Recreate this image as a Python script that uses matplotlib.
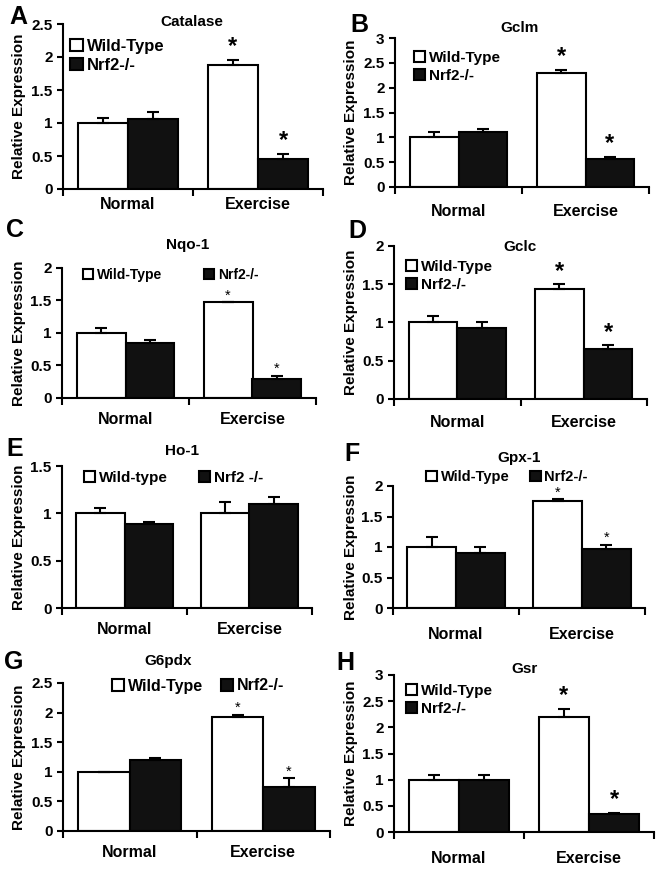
import numpy as np
import matplotlib.pyplot as plt
from matplotlib.ticker import MultipleLocator, FixedLocator

plt.rcParams['font.family'] = ['Liberation Sans', 'DejaVu Sans']
plt.rcParams['font.weight'] = 'bold'

W, H = 664, 873

# data
genes = ['Catalase', 'Gclm', 'Nqo-1', 'Gclc', 'Ho-1', 'Gpx-1', 'G6pdx', 'Gsr']
letters = ['A', 'B', 'C', 'D', 'E', 'F', 'G', 'H']
groups = ['Normal', 'Exercise']
wt_labels = ['Wild-Type', 'Wild-Type', 'Wild-Type', 'Wild-Type', 'Wild-type', 'Wild-Type', 'Wild-Type', 'Wild-Type']
ko_labels = ['Nrf2-/-', 'Nrf2-/-', 'Nrf2-/-', 'Nrf2-/-', 'Nrf2 -/-', 'Nrf2-/-', 'Nrf2-/-', 'Nrf2-/-']
wt_mean = [[1.0, 1.88], [1.0, 2.30], [1.0, 1.47], [1.0, 1.44], [1.0, 1.0], [1.0, 1.76], [1.0, 1.93], [1.0, 2.20]]
wt_err = [[0.07, 0.08], [0.10, 0.06], [0.08, 0.0], [0.08, 0.06], [0.06, 0.12], [0.17, 0.02], [0.0, 0.03], [0.08, 0.15]]
ko_mean = [[1.06, 0.46], [1.10, 0.57], [0.85, 0.29], [0.93, 0.66], [0.89, 1.10], [0.90, 0.96], [1.20, 0.74], [1.0, 0.34]]
ko_err = [[0.10, 0.07], [0.07, 0.04], [0.04, 0.05], [0.07, 0.04], [0.02, 0.07], [0.10, 0.07], [0.04, 0.15], [0.08, 0.03]]
ymax = [2.5, 3, 2, 2, 1.5, 2, 2.5, 3]
significant = [True, True, True, True, False, True, True, True]

# layout (pixels): axes box x0, y0(top), x1, y1(bottom)
boxes = [(63, 24, 323, 189), (395, 38, 649, 187), (62, 268, 316, 398), (394, 246, 647, 399),
         (62, 466, 312, 608), (393, 486, 645, 608), (63, 683, 330, 831), (394, 675, 654, 832)]
title_pos = [(192, 22), (520, 28), (188, 245), (520, 247), (182, 451), (519, 458), (168, 661), (525, 669)]
letter_pos = [(18, 17), (359, 25), (15, 230), (357, 231), (15, 449), (352, 454), (14, 662), (345, 663)]
legend_pos = [(70, 56), (414, 67), (83, 275), (406, 276), (84, 478), (426, 477), (112, 686), (406, 700)]
legend_cols = [1, 1, 2, 1, 2, 2, 2, 1]
legend_gap = [1, 1, 3.0, 1, 2.0, 1.4, 1.1, 1]
legend_fs = [12, 11, 10, 11, 11, 10.5, 11.5, 11]
xpad = [6, 12, 10, 11.5, 10, 13.5, 10, 13.5]
bold_star = [True, True, False, True, False, False, False, True]
ylabel_x = [26, 358, 26, 358, 26, 358, 26, 358]


def fx(x):
    return x / W


def fy(y):
    return 1 - y / H


fig = plt.figure(figsize=(W / 100, H / 100), dpi=100, facecolor='white')

centers = np.array([0.5, 1.5])
bw = 0.385

for i in range(8):
    x0, y0, x1, y1 = boxes[i]
    ax = fig.add_axes([fx(x0), fy(y1), (x1 - x0) / W, (y1 - y0) / H])
    wt = np.array(wt_mean[i])
    ko = np.array(ko_mean[i])
    b1 = ax.bar(centers - bw / 2, wt, bw, color='white', edgecolor='black', linewidth=1.5, zorder=2,
                label=wt_labels[i])
    b2 = ax.bar(centers + bw / 2, ko, bw, color='#111111', edgecolor='black', linewidth=1.5, zorder=2,
                label=ko_labels[i])
    ax.errorbar(centers - bw / 2, wt, yerr=[np.zeros(2), wt_err[i]], fmt='none', ecolor='black',
                elinewidth=1.5, capsize=4, capthick=1.5, zorder=3)
    ax.errorbar(centers + bw / 2, ko, yerr=[np.zeros(2), ko_err[i]], fmt='none', ecolor='black',
                elinewidth=1.5, capsize=4, capthick=1.5, zorder=3)

    # significance stars over the exercise bars
    if significant[i]:
        for xs, m, e in [(centers[1] - bw / 2, wt[1], wt_err[i][1]), (centers[1] + bw / 2, ko[1], ko_err[i][1])]:
            if bold_star[i]:
                ax.text(xs, m + e + ymax[i] * 0.01, '*', ha='center', va='bottom', fontsize=17,
                        fontweight='bold', zorder=4)
            else:
                ax.text(xs, m + e, '*', ha='center', va='bottom', fontsize=10.5,
                        fontweight='normal', zorder=4)

    ax.set_xlim(0, 2)
    ax.set_ylim(0, ymax[i])
    ax.yaxis.set_major_locator(MultipleLocator(0.5))
    ax.yaxis.set_major_formatter(plt.FuncFormatter(lambda v, p: ('%g' % v)))
    ax.xaxis.set_major_locator(FixedLocator([0, 1, 2]))
    ax.xaxis.set_major_formatter(plt.NullFormatter())
    ax.xaxis.set_minor_locator(FixedLocator(centers))
    ax.set_xticklabels(groups, minor=True)
    ax.tick_params(axis='x', which='minor', length=0, pad=xpad[i], labelsize=11.5)
    ax.tick_params(axis='x', which='major', length=5, width=1.5, direction='out')
    ax.tick_params(axis='y', length=4, width=1.5, direction='out', labelsize=11)
    for s in ['top', 'right']:
        ax.spines[s].set_visible(False)
    for s in ['left', 'bottom']:
        ax.spines[s].set_linewidth(1.5)

    ax.set_ylabel('Relative Expression', fontsize=11, fontweight='bold')
    ax.yaxis.set_label_coords((ylabel_x[i] - x0) / (x1 - x0), 0.5)

    lx, ly = legend_pos[i]
    ax.legend(handles=[b1, b2], loc='center left', bbox_to_anchor=(fx(lx), fy(ly)),
              bbox_transform=fig.transFigure, frameon=False, ncol=legend_cols[i],
              handlelength=0.75, handleheight=0.75, handletextpad=0.25,
              borderpad=0, borderaxespad=0, labelspacing=0.25, columnspacing=legend_gap[i],
              prop={'weight': 'bold', 'size': legend_fs[i]})

    tx, ty = title_pos[i]
    fig.text(fx(tx), fy(ty), genes[i], ha='center', va='center', fontsize=11, fontweight='bold')
    px, py = letter_pos[i]
    fig.text(fx(px), fy(py), letters[i], ha='center', va='center', fontsize=18, fontweight='bold')

fig.savefig('out.png', dpi=100, facecolor='white')
